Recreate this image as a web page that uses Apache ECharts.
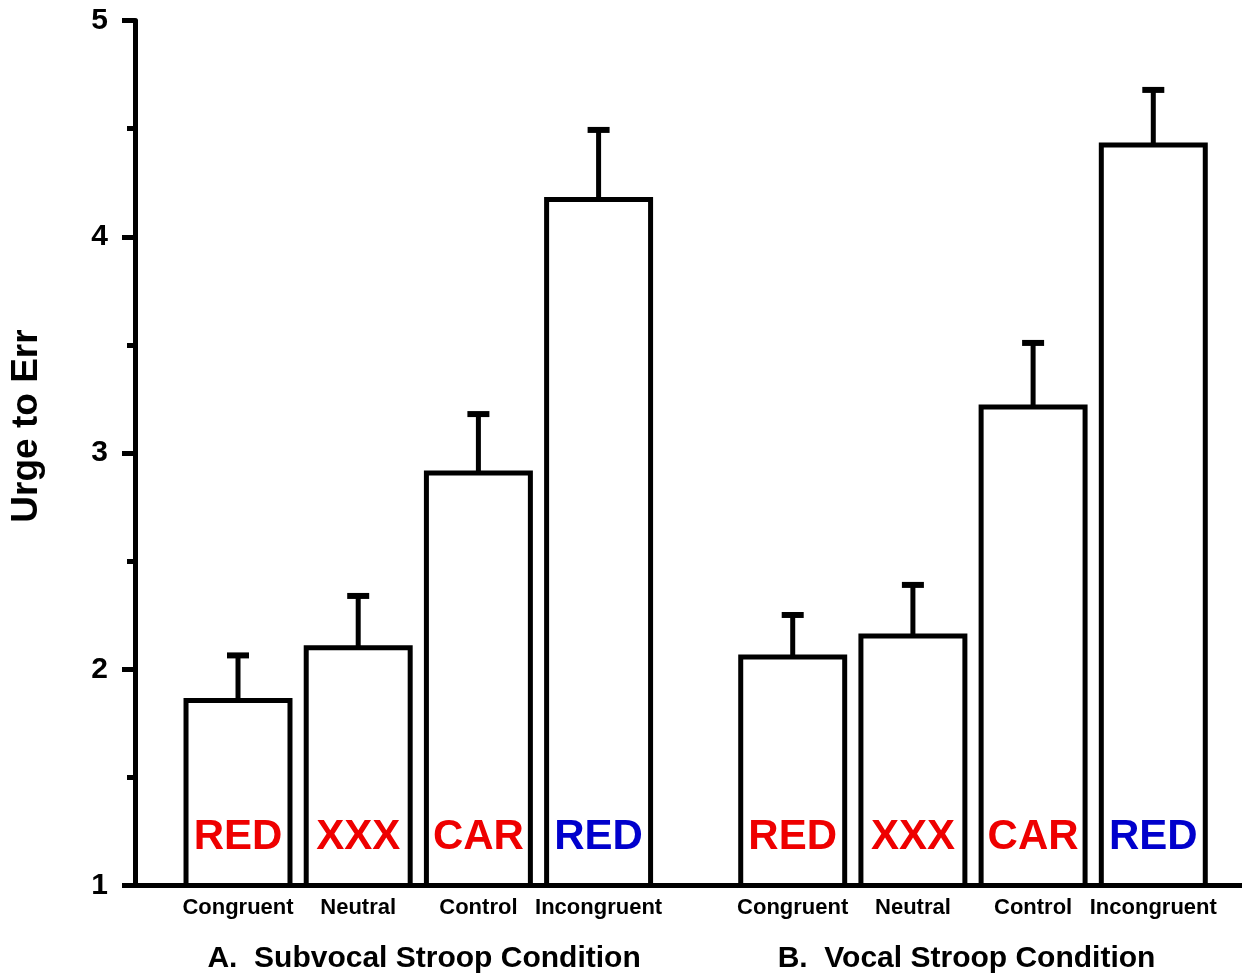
<!DOCTYPE html>
<html>
<head>
<meta charset="utf-8">
<script src="https://cdn.jsdelivr.net/npm/echarts@6/dist/echarts.min.js"></script>
<style>
html,body{margin:0;padding:0;background:#fff;}
#chart{width:1242px;height:979px;}
</style>
</head>
<body>
<div id="chart"></div>
<script>
// ---- data ----
const categories = ['Congruent', 'Neutral', 'Control', 'Incongruent'];
const words = ['RED', 'XXX', 'CAR', 'RED'];
const wordColors = ['#ee0000', '#ee0000', '#ee0000', '#0000cc'];
const groupTitles = ['A.  Subvocal Stroop Condition', 'B.  Vocal Stroop Condition'];
const subvocalMeans = [1.855, 2.10, 2.907, 4.172];
const subvocalErrTop = [2.064, 2.339, 3.18, 4.494];
const vocalMeans = [2.057, 2.154, 3.213, 4.424];
const vocalErrTop = [2.251, 2.39, 3.509, 4.679];
const yTicks = [1, 2, 3, 4, 5];

// ---- layout helpers (positions on a slot scale) ----
const FIRST = 0.857, GROUP_OFFSET = 4.615, XMAX = 9.21;
const groups = [
  {means: subvocalMeans, errs: subvocalErrTop},
  {means: vocalMeans, errs: vocalErrTop}
];
const data = [];
const labelPos = [];
const labelText = {};
groups.forEach((g, gi) => {
  categories.forEach((c, i) => {
    const p = +(FIRST + gi * GROUP_OFFSET + i).toFixed(3);
    data.push([p, g.means[i], g.errs[i], i]);
    labelPos.push(p);
    labelText[p] = c;
  });
});
const titlePos = [
  +(FIRST + 1.5 + 0.048).toFixed(3),
  +(FIRST + GROUP_OFFSET + 1.5 - 0.054).toFixed(3)
];
const titleText = {};
titlePos.forEach((p, i) => titleText[p] = groupTitles[i]);

const FONT = '"Liberation Sans", Arial, Helvetica, sans-serif';

const chart = echarts.init(document.getElementById('chart'), null, {renderer: 'canvas'});
chart.setOption({
  backgroundColor: '#ffffff',
  animation: false,
  grid: {left: 134.5, right: 0, top: 20.5, bottom: 93.5, containLabel: false},
  xAxis: [
    {
      type: 'value', min: 0, max: XMAX,
      axisLine: {show: true, lineStyle: {color: '#000', width: 5}},
      axisTick: {show: false},
      splitLine: {show: false},
      axisLabel: {
        show: true, customValues: labelPos, margin: 11,
        formatter: v => labelText[+(+v).toFixed(3)] || '',
        color: '#000', fontWeight: 'bold', fontSize: 22, fontFamily: FONT
      }
    },
    {
      type: 'value', min: 0, max: XMAX, position: 'bottom',
      axisLine: {show: false}, axisTick: {show: false}, splitLine: {show: false},
      axisLabel: {
        show: true, customValues: titlePos, margin: 58,
        formatter: v => titleText[+(+v).toFixed(3)] || '',
        color: '#000', fontWeight: 'bold', fontSize: 30, fontFamily: FONT
      }
    }
  ],
  yAxis: {
    type: 'value', min: 1, max: 5, interval: 1,
    name: 'Urge to Err', nameLocation: 'middle', nameRotate: 90, nameGap: 90,
    nameTextStyle: {color: '#000', fontWeight: 'bold', fontSize: 37, fontFamily: FONT, padding: [0, 0, 0, 54]},
    axisLine: {show: true, lineStyle: {color: '#000', width: 5}},
    axisTick: {show: true, length: 13, lineStyle: {color: '#000', width: 5}},
    minorTick: {show: true, splitNumber: 2, length: 8, lineStyle: {color: '#000', width: 5}},
    splitLine: {show: false},
    minorSplitLine: {show: false},
    axisLabel: {
      margin: 27, color: '#000', fontWeight: 'bold', fontSize: 30, fontFamily: FONT,
      formatter: v => yTicks.includes(v) ? String(v) : ''
    }
  },
  series: [{
    type: 'custom',
    xAxisIndex: 0,
    encode: {x: 0, y: 1},
    data: data,
    renderItem: function (params, api) {
      const x = api.value(0), v = api.value(1), e = api.value(2), idx = api.value(3);
      const base = api.coord([x, 1]);
      const top = api.coord([x, v]);
      const cap = api.coord([x, e]);
      const w = api.size([1, 0])[0] * 0.865;
      return {
        type: 'group',
        children: [
          {type: 'rect', shape: {x: base[0] - w / 2, y: top[1], width: w, height: base[1] - top[1]},
            style: {fill: '#fff', stroke: '#000', lineWidth: 5}},
          {type: 'line', shape: {x1: top[0], y1: top[1], x2: top[0], y2: cap[1]},
            style: {stroke: '#000', lineWidth: 5}},
          {type: 'line', shape: {x1: cap[0] - 11, y1: cap[1], x2: cap[0] + 11, y2: cap[1]},
            style: {stroke: '#000', lineWidth: 6}},
          {type: 'text', x: base[0], y: base[1] - 48,
            style: {text: words[idx], fill: wordColors[idx], font: 'bold 42px ' + FONT,
              align: 'center', verticalAlign: 'middle'}}
        ]
      };
    }
  }]
});
</script>
</body>
</html>
